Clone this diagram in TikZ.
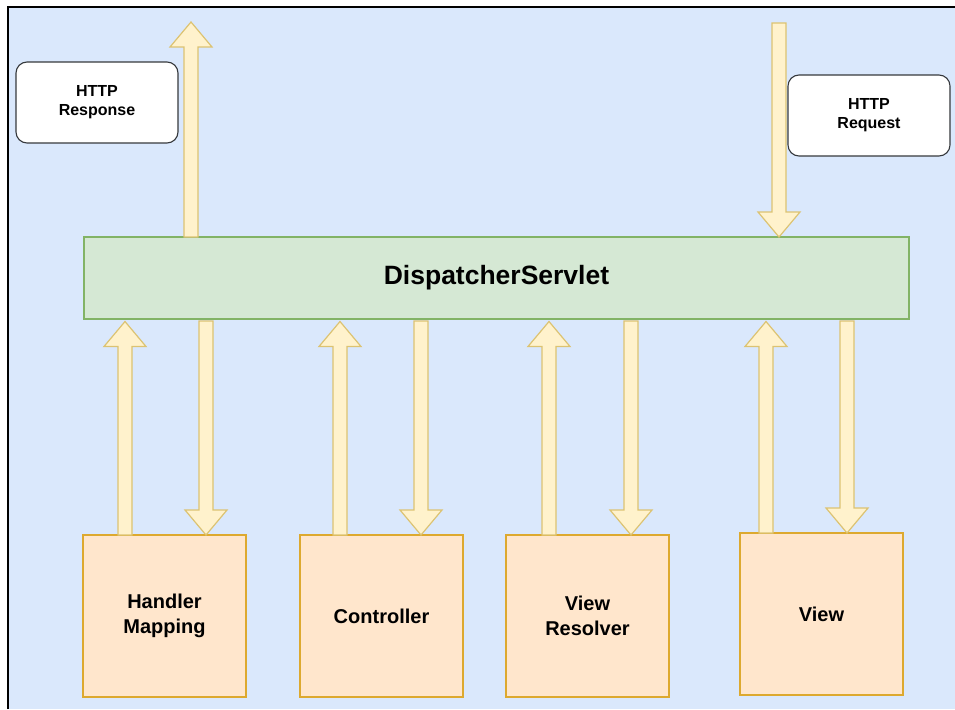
\documentclass[tikz,border=0pt]{standalone}
\usepackage{fontspec}
\setmainfont{Liberation Sans}
\usetikzlibrary{calc}

\definecolor{canvasblue}{HTML}{DAE8FC}
\definecolor{servletfill}{HTML}{D5E8D4}
\definecolor{servletline}{HTML}{82B366}
\definecolor{partfill}{HTML}{FFE6CC}
\definecolor{partline}{HTML}{DDA92F}
\definecolor{arrowfill}{HTML}{FFF2CC}
\definecolor{arrowline}{HTML}{DCC372}
\definecolor{noteline}{HTML}{36393D}

\tikzset{
  servlet/.style={draw=servletline, fill=servletfill, line width=1.3pt,
    minimum width=825pt, minimum height=82pt, inner sep=0pt, outer sep=0pt,
    font=\bfseries\fontsize{26.5}{30}\selectfont},
  part/.style={draw=partline, fill=partfill, line width=1.6pt,
    minimum width=163pt, minimum height=162pt, inner sep=0pt, outer sep=0pt,
    align=center, font=\bfseries\fontsize{20}{25}\selectfont},
  note/.style={draw=noteline, fill=white, line width=1.1pt, rounded corners=11pt,
    minimum width=162pt, minimum height=81pt, inner sep=0pt, outer sep=0pt,
    align=center, font=\bfseries\fontsize{16}{19}\selectfont},
  fatarrow/.style={draw=arrowline, fill=arrowfill, line width=1.2pt, line join=miter}
}

% Block arrow: #1 = +1 pointing up, -1 pointing down; #2 = tail point; #3 = tip point
\newcommand\fatarrow[3]{%
  \draw[fatarrow] let \p1=(#2), \p2=(#3) in
    (\x1-7pt,\y1) -- (\x1-7pt,\y2-#1*25pt) -- (\x1-21pt,\y2-#1*25pt) --
    (\x1,\y2) -- (\x1+21pt,\y2-#1*25pt) -- (\x1+7pt,\y2-#1*25pt) --
    (\x1+7pt,\y1) -- cycle;}

\begin{document}
\begin{tikzpicture}[x=1pt, y=-1pt]
  \useasboundingbox (0,0) rectangle (955,709);
  \fill[white] (0,0) rectangle (955,709);
  \fill[canvasblue] (8,7) rectangle (955,709);
  \draw[black, line width=2.6pt] (8,709) -- (8,7) -- (955,7);

  % Central servlet and the components it talks to
  \node[servlet] (disp) at (496.5,278) {DispatcherServlet};
  \node[part] (hm)  at (164.5,616) {Handler\\Mapping};
  \node[part] (ctl) at (381.5,616) {Controller};
  \node[part] (vr)  at (587.5,616) {View\\Resolver};
  \node[part] (vw)  at (821.5,614) {View};

  % HTTP notes
  \node[note] (resp) at (97,102.5)  {HTTP\\Response};
  \node[note] (req)  at (869,115.5) {HTTP\\Request};

  % Request in, response out
  \coordinate (respout) at (191,22);
  \coordinate (reqin)   at (779,23);
  \fatarrow{1}{disp.north -| respout}{respout}
  \fatarrow{-1}{reqin}{disp.north -| reqin}

  % Calls to and from each component, just clear of the servlet's lower edge
  \foreach \comp/\up/\down in {hm/125/206, ctl/340/421, vr/549/631, vw/766/847}{
    \fatarrow{1}{\comp.north -| \up,0}{$(disp.south -| \up,0)+(0,2.5)$}
    \fatarrow{-1}{$(disp.south -| \down,0)+(0,2)$}{\comp.north -| \down,0}
  }
\end{tikzpicture}
\end{document}
